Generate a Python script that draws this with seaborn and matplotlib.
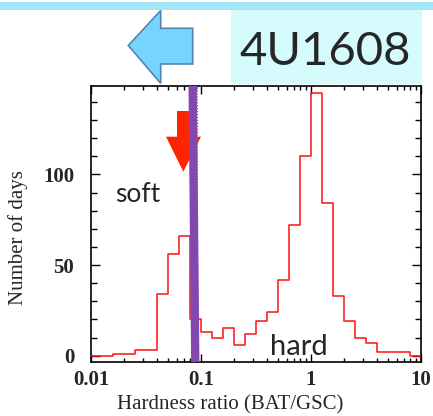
import numpy as np
import matplotlib
matplotlib.use("Agg")
import matplotlib.pyplot as plt
from matplotlib.patches import Polygon, Rectangle
from matplotlib.ticker import FixedLocator, NullFormatter, FuncFormatter
import seaborn as sns

# log10 hardness-ratio bins, 0.1 dex wide, from 0.01 to 10
log_edges = np.round(np.arange(-2.0, 1.0001, 0.1), 1)
bin_centers = 10 ** (log_edges[:-1] + 0.05)
# days per hardness bin
days = [0, 0, 1, 1, 3, 3, 34, 56, 66, 20, 13, 10, 15, 6, 12, 19, 24, 42, 72,
        110, 145, 84, 33, 19, 10, 7, 2, 2, 2, 0]

x_ticks = [0.01, 0.1, 1, 10]
y_ticks = [0, 50, 100]
soft_hard_boundary = [0.084, 0.0887]   # top / bottom of the separator band

sns.set_style("ticks")
serif = ["Liberation Serif", "DejaVu Serif"]
sans = ["Lato", "DejaVu Sans"]

W, H = 433, 416
fig = plt.figure(figsize=(W / 100, H / 100), dpi=100)


def fx(x):
    return x / W


def fy(y):
    return 1 - y / H


ax = fig.add_axes([fx(91), fy(362), fx(421) - fx(91), fy(86) - fy(362)])

sns.histplot(x=bin_centers, weights=days, log_scale=True, binwidth=0.1,
             binrange=(-2, 1), element="step", fill=False, color="#ff1010",
             linewidth=1.1, ax=ax, zorder=3)

ax.set_xlim(0.01, 10)
ax.set_ylim(-3.5, 148.8)

# separator between soft and hard states
ax.plot([0.0915, 0.0915], [-3.5, 148.8], color="#666666", lw=0.8, ls=":",
        zorder=2)
ax.plot(soft_hard_boundary, [148.8, -3.5], color="#8447ae", lw=6,
        solid_capstyle="butt", zorder=5)

ax.xaxis.set_major_locator(FixedLocator(x_ticks))
ax.xaxis.set_major_formatter(FuncFormatter(lambda v, p: f"{v:g}"))
ax.xaxis.set_minor_formatter(NullFormatter())
ax.yaxis.set_major_locator(FixedLocator(y_ticks))
ax.yaxis.set_minor_locator(FixedLocator(np.arange(0, 150, 10)))

ax.tick_params(which="both", direction="in", top=True, right=True,
               width=1.0, color="black")
ax.tick_params(axis="y", which="major", length=6.5, pad=12)
ax.tick_params(axis="y", which="minor", length=4)
ax.tick_params(axis="x", which="major", length=5.5, pad=6)
ax.tick_params(axis="x", which="minor", length=3)
for lab in ax.get_xticklabels() + ax.get_yticklabels():
    lab.set_fontfamily(serif)
    lab.set_fontsize(15)
    lab.set_fontweight("bold")
for sp in ax.spines.values():
    sp.set_linewidth(1.2)
    sp.set_color("black")

ax.set_xlabel("Hardness ratio (BAT/GSC)", fontsize=15, family=serif,
              labelpad=2)
ax.xaxis.set_label_coords(0.421, -0.12)
ax.set_ylabel("Number of days", fontsize=15, family=serif)
ax.yaxis.set_label_coords(-0.19, 0.45)

ax.text(0.073, 0.58, "soft", transform=ax.transAxes, fontsize=19,
        family=sans, ha="left", va="baseline")
ax.text(0.543, 0.025, "hard", transform=ax.transAxes, fontsize=21,
        family=sans, ha="left", va="baseline", zorder=6)

# header decorations
fig.add_artist(Rectangle((fx(231), fy(84)), fx(421.7) - fx(231), fy(6) - fy(84),
                         transform=fig.transFigure, facecolor="#d5fbfd",
                         edgecolor="none", zorder=0))
fig.add_artist(Rectangle((0, fy(9.5)), 1, fy(2) - fy(9.5),
                         transform=fig.transFigure, facecolor="#a3e7f7",
                         edgecolor="none", zorder=1))
fig.text(fx(325), fy(65), "4U1608", fontsize=34, family=sans,
         ha="center", va="baseline")

blue_pts = [(128.3, 45.5), (160.7, 10.5), (160.7, 28.3), (192.7, 28.3),
            (192.7, 64), (160.7, 64), (160.7, 83.3)]
fig.add_artist(Polygon([(fx(a), fy(b)) for a, b in blue_pts], closed=True,
                       transform=fig.transFigure, facecolor="#78d4ff",
                       edgecolor="#4f86b4", lw=1.2, zorder=2))

red_pts = [(177, 111), (189.6, 111), (189.6, 136.7), (201, 136.7),
           (183.3, 171.7), (166, 136.7), (177, 136.7)]
ax.add_patch(Polygon([(fx(a), fy(b)) for a, b in red_pts], closed=True,
                     transform=fig.transFigure, facecolor="#ff2400",
                     edgecolor="none", zorder=4))

fig.savefig("out.png", dpi=100)
